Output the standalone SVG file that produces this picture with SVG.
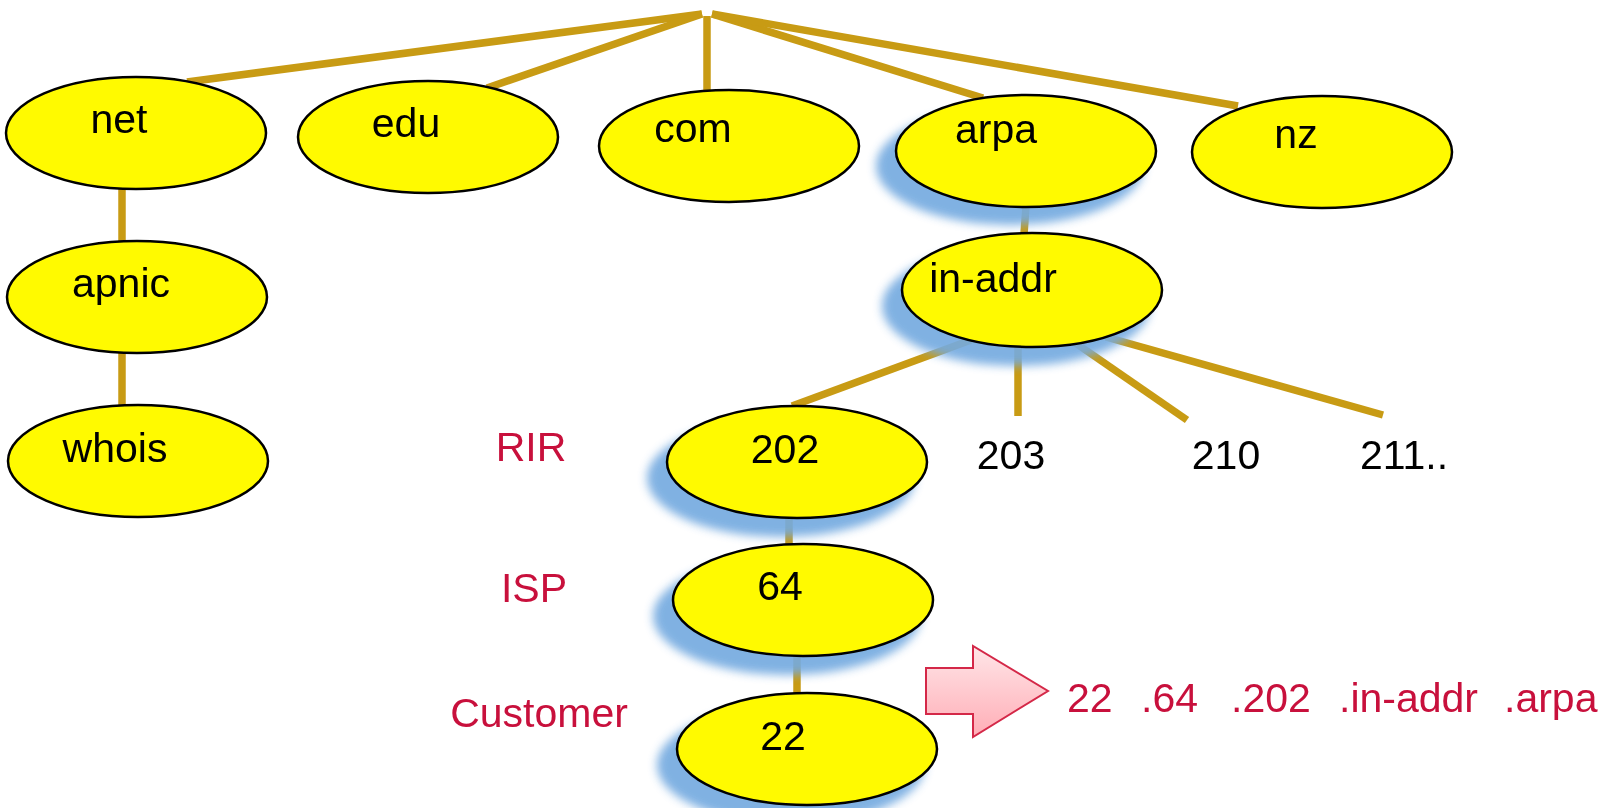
<svg xmlns="http://www.w3.org/2000/svg" width="1604" height="808" viewBox="0 0 1604 808">
  <style>
    .edge { stroke: #C89B14; stroke-width: 7.5; fill: none; stroke-linecap: butt; }
    .node { fill: #FFFA00; stroke: #000; stroke-width: 2.5; }
    .shadow { fill: #74AAE0; filter: url(#soft); }
    .lbl { font-family: "Liberation Sans", Arial, sans-serif; font-size: 41px; fill: #000; text-anchor: middle; }
    .red { font-family: "Liberation Sans", Arial, sans-serif; font-size: 41px; fill: #C8103C; }
    .mid { text-anchor: middle; }
  </style>
  <defs>
    <filter id="soft" x="-20%" y="-30%" width="140%" height="160%">
      <feGaussianBlur stdDeviation="5"/>
    </filter>
    <linearGradient id="pink" x1="0" y1="0" x2="0" y2="1">
      <stop offset="0" stop-color="#FFE6E8"/>
      <stop offset="1" stop-color="#FFADB6"/>
    </linearGradient>
  </defs>

  <rect width="1604" height="808" fill="#fff"/>

  <!-- tree edges -->
  <g id="connectors">
    <line class="edge" x1="702" y1="14" x2="187" y2="82"/>
    <line class="edge" x1="702" y1="14" x2="487" y2="88"/>
    <line class="edge" x1="707" y1="16" x2="707" y2="91"/>
    <line class="edge" x1="712" y1="14" x2="983" y2="98"/>
    <line class="edge" x1="712" y1="14" x2="1238" y2="106"/>
    <line class="edge" x1="122" y1="188" x2="122" y2="242"/>
    <line class="edge" x1="122" y1="353" x2="122" y2="406"/>
    <line class="edge" x1="1026" y1="206" x2="1024" y2="234"/>
    <line class="edge" x1="971" y1="340" x2="792" y2="406"/>
    <line class="edge" x1="1018" y1="345" x2="1018" y2="416"/>
    <line class="edge" x1="1074" y1="342" x2="1187" y2="420"/>
    <line class="edge" x1="1106" y1="337" x2="1383" y2="415"/>
    <line class="edge" x1="789" y1="517" x2="789" y2="544"/>
    <line class="edge" x1="797" y1="649" x2="797" y2="694"/>
  </g>

  <!-- soft drop shadows (drawn over the edges) -->
  <g id="shadows" opacity="0.92">
    <ellipse class="shadow" cx="1010" cy="166" rx="134" ry="59"/>
    <ellipse class="shadow" cx="1016" cy="306" rx="134" ry="60"/>
    <ellipse class="shadow" cx="781" cy="478" rx="134" ry="59"/>
    <ellipse class="shadow" cx="787" cy="616" rx="134" ry="59"/>
    <ellipse class="shadow" cx="791" cy="765" rx="134" ry="59"/>
  </g>

  <g id="net"><ellipse class="node" cx="136" cy="133" rx="130" ry="56"/><text class="lbl" x="119" y="133">net</text></g>
  <g id="edu"><ellipse class="node" cx="428" cy="137" rx="130" ry="56"/><text class="lbl" x="406" y="137">edu</text></g>
  <g id="com"><ellipse class="node" cx="729" cy="146" rx="130" ry="56"/><text class="lbl" x="693" y="142">com</text></g>
  <g id="arpa"><ellipse class="node" cx="1026" cy="151" rx="130" ry="56"/><text class="lbl" x="996" y="143">arpa</text></g>
  <g id="nz"><ellipse class="node" cx="1322" cy="152" rx="130" ry="56"/><text class="lbl" x="1296" y="148">nz</text></g>
  <g id="apnic"><ellipse class="node" cx="137" cy="297" rx="130" ry="56"/><text class="lbl" x="121" y="297">apnic</text></g>
  <g id="whois"><ellipse class="node" cx="138" cy="461" rx="130" ry="56"/><text class="lbl" x="115" y="462">whois</text></g>
  <g id="in-addr"><ellipse class="node" cx="1032" cy="290" rx="130" ry="57"/><text class="lbl" x="993" y="292">in-addr</text></g>
  <g id="n202"><ellipse class="node" cx="797" cy="462" rx="130" ry="56"/><text class="lbl" x="785" y="463">202</text></g>
  <g id="n203"><text class="lbl" x="1011" y="469">203</text></g>
  <g id="n210"><text class="lbl" x="1226" y="469">210</text></g>
  <g id="n211"><text class="lbl" x="1404" y="469">211..</text></g>
  <g id="n64"><ellipse class="node" cx="803" cy="600" rx="130" ry="56"/><text class="lbl" x="780" y="600">64</text></g>
  <g id="n22"><ellipse class="node" cx="807" cy="749" rx="130" ry="56"/><text class="lbl" x="783" y="750">22</text></g>

  <!-- level labels -->
  <g id="levels">
    <text class="red mid" x="531" y="461">RIR</text>
    <text class="red mid" x="534" y="602">ISP</text>
    <text class="red mid" x="539" y="727">Customer</text>
  </g>

  <!-- block arrow and the resulting reverse name -->
  <g id="result">
    <path d="M926 668 H973 V646 L1048 691 L973 737 V714 H926 Z" fill="url(#pink)" stroke="#D42848" stroke-width="2"/>
    <text class="red" y="712"><tspan x="1067">22</tspan><tspan x="1141">.64</tspan><tspan x="1231">.202</tspan><tspan x="1339">.in-addr</tspan><tspan x="1504">.arpa</tspan></text>
  </g>
</svg>
